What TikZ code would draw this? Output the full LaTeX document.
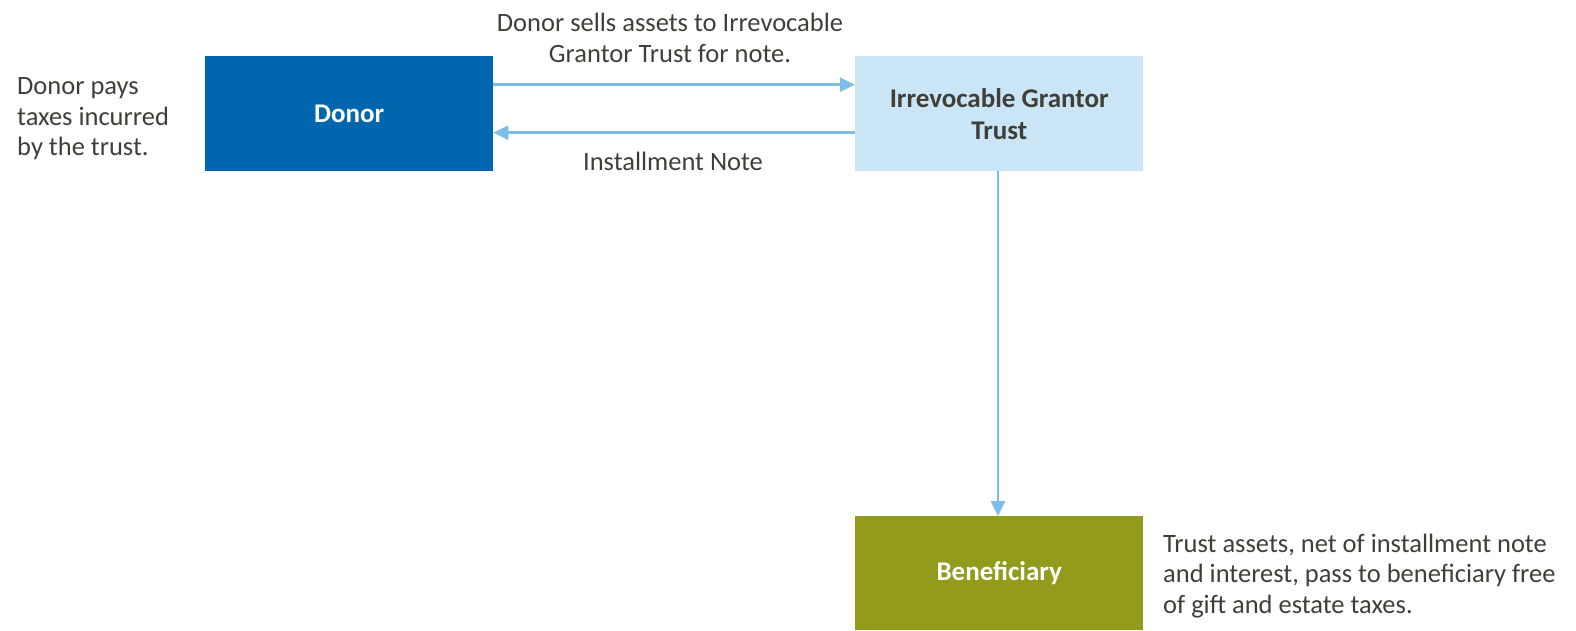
\documentclass[tikz,border=0pt]{standalone}
\usepackage{fontspec}
\setmainfont{Carlito}
\usetikzlibrary{arrows.meta}
\definecolor{donorblue}{HTML}{0066AD}
\definecolor{trustblue}{HTML}{CAE5F6}
\definecolor{benolive}{HTML}{929B1C}
\definecolor{arrowblue}{HTML}{7CBDE9}
\definecolor{txtgray}{HTML}{3F3F38}
\tikzset{
  box/.style={rectangle, inner sep=0pt, minimum width=288pt, minimum height=115pt, align=center, font=\fontsize{27}{32}\selectfont\bfseries},
  lbl/.style={inner sep=0pt, text=txtgray, font=\fontsize{26.5}{30.5}\selectfont},
  conn/.style={draw=arrowblue, line width=2.8pt, -{Triangle[length=15pt,width=14pt]}}
}
\begin{document}
\begin{tikzpicture}[x=1pt,y=-1pt]
\useasboundingbox (0,0) rectangle (1576,630);
\node[box, fill=donorblue, text=white, anchor=north west] (donor) at (205,56) {Donor};
\node[box, fill=trustblue, text=txtgray, anchor=north west] (trust) at (855,56) {\raisebox{6pt}{\parbox{280pt}{\centering Irrevocable Grantor\\Trust}}};
\node[box, fill=benolive, text=white, anchor=north west, minimum height=114pt] (ben) at (855,516) {Beneficiary};
\node[lbl, align=left, anchor=west] (ltxt) at (17,119) {Donor pays\\taxes incurred\\by the trust.};
\node[lbl, align=center] (toptxt) at (670,38) {Donor sells assets to Irrevocable\\Grantor Trust for note.};
\node[lbl] (inote) at (673,161) {Installment Note};
\node[lbl, align=left, anchor=west] (rtxt) at (1163,576) {Trust assets, net of installment note\\and interest, pass to beneficiary free\\of gift and estate taxes.};
\coordinate (a1s) at ([yshift=29pt]donor.east);
\coordinate (a1e) at ([yshift=29pt]trust.west);
\coordinate (a2s) at ([yshift=-19pt]trust.west);
\coordinate (a2e) at ([yshift=-19pt]donor.east);
\draw[conn] (a1s) -- (a1e);
\draw[conn] (a2s) -- (a2e);
\draw[conn] (trust.south -| 998,0) -- (ben.north -| 998,0);
\end{tikzpicture}
\end{document}
